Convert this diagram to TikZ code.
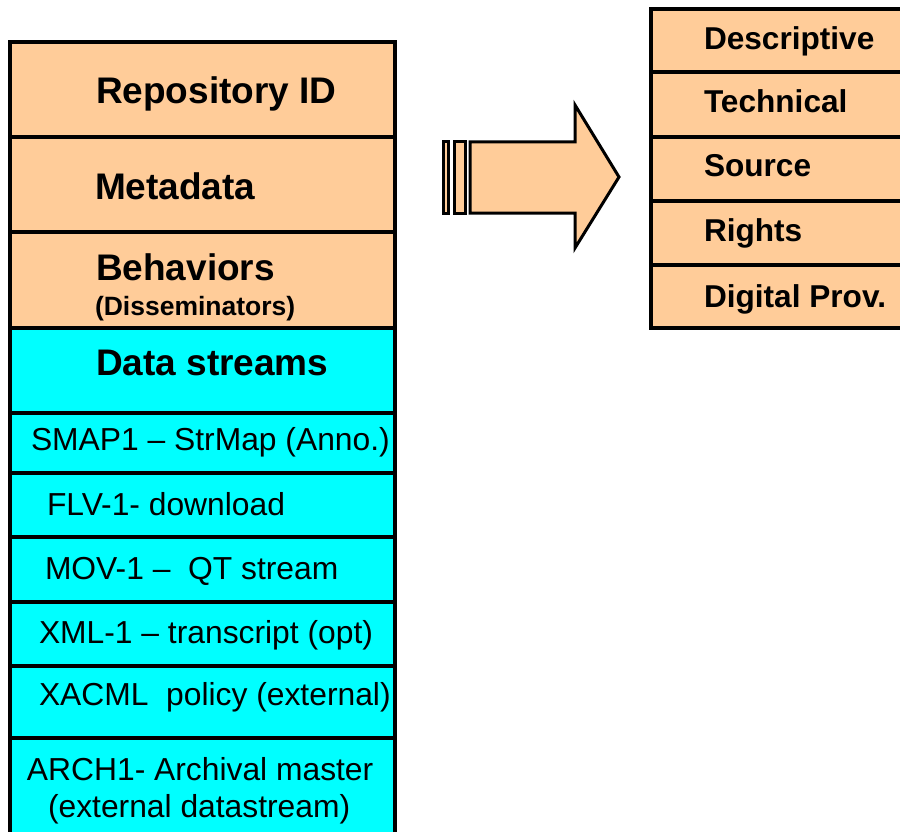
\documentclass[tikz,border=0pt]{standalone}
\usepackage{fontspec}
\setmainfont{Liberation Sans}
\definecolor{peach}{HTML}{FFCC99}
\definecolor{aqua}{HTML}{00FFFF}
\begin{document}
\begin{tikzpicture}[x=1pt,y=-1pt,
  box/.style={draw=black,line width=4pt,rectangle,inner sep=0pt,outer sep=0pt},
  pbox/.style={box,fill=peach},
  cbox/.style={box,fill=aqua},
  lbox/.style={minimum width=385pt},
  rbox/.style={minimum width=264pt},
  lbl/.style={anchor=base west,inner sep=0pt,outer sep=0pt,text=black},
  big/.style={lbl,font=\fontsize{37}{40}\selectfont\bfseries},
  mid/.style={lbl,font=\fontsize{31.6}{34}\selectfont\bfseries},
  small/.style={lbl,font=\fontsize{26.5}{30}\selectfont\bfseries},
  reg/.style={lbl,font=\fontsize{31.8}{35}\selectfont},
  arrowpart/.style={draw=black,line width=3pt,fill=peach,line join=miter}]
\useasboundingbox (0,0) rectangle (900,832);
\clip (0,0) rectangle (900,832);
\fill[white] (0,0) rectangle (900,832);
% left column
\node[pbox,lbox,minimum height=95pt] (rep) at (202.5,89.5) {};
\node[pbox,lbox,minimum height=95pt] (meta) at (202.5,184.5) {};
\node[pbox,lbox,minimum height=96pt] (beh) at (202.5,280) {};
\node[cbox,lbox,minimum height=85pt] (ds) at (202.5,370.5) {};
\node[cbox,lbox,minimum height=60pt] (smap) at (202.5,443) {};
\node[cbox,lbox,minimum height=64pt] (flv) at (202.5,505) {};
\node[cbox,lbox,minimum height=65pt] (mov) at (202.5,569.5) {};
\node[cbox,lbox,minimum height=64pt] (xml) at (202.5,634) {};
\node[cbox,lbox,minimum height=72pt] (xacml) at (202.5,702) {};
\node[cbox,lbox,minimum height=122pt] (arch) at (202.5,799) {};
% right column
\node[pbox,rbox,minimum height=63pt] (desc) at (783,40.5) {};
\node[pbox,rbox,minimum height=65pt] (tech) at (783,104.5) {};
\node[pbox,rbox,minimum height=64pt] (src) at (783,169) {};
\node[pbox,rbox,minimum height=64pt] (rights) at (783,233) {};
\node[pbox,rbox,minimum height=63pt] (prov) at (783,296.5) {};
% arrow
\draw[arrowpart] (443,142) rectangle (448,213);
\draw[arrowpart] (454,142) rectangle (465,213);
\draw[arrowpart] (470,142) -- (575,142) -- (575,105) -- (619,177) -- (575,248) -- (575,213) -- (470,213) -- cycle;
% labels left
\node[big] (trep) at (96,104) {Repository ID};
\node[big] (tmeta) at (95,200) {Metadata};
\node[big] (tbeh) at (96,280) {Behaviors};
\node[small] (tdis) at (95,315) {(Disseminators)};
\node[big] (tds) at (96,375) {Data streams};
\node[reg] (tsmap) at (31,450) {SMAP1 – StrMap (Anno.)};
\node[reg] (tflv) at (47,515) {FLV-1- download};
\node[reg] (tmov) at (45,579) {MOV-1 –\ \ QT stream};
\node[reg] (txml) at (39,643) {XML-1 – transcript (opt)};
\node[reg] (txacml) at (39,705) {XACML\ \ policy (external)};
\node[reg] (tarch) at (27,780) {ARCH1- Archival master};
\node[reg] (tarch2) at (48,817) {(external datastream)};
% labels right
\node[mid] (tdesc) at (704,50) {Descriptive};
\node[mid] (ttech) at (704,113) {Technical};
\node[mid] (tsrc) at (704,177) {Source};
\node[mid] (trights) at (704,241) {Rights};
\node[mid] (tprov) at (704,307) {Digital Prov.};
\end{tikzpicture}
\end{document}
